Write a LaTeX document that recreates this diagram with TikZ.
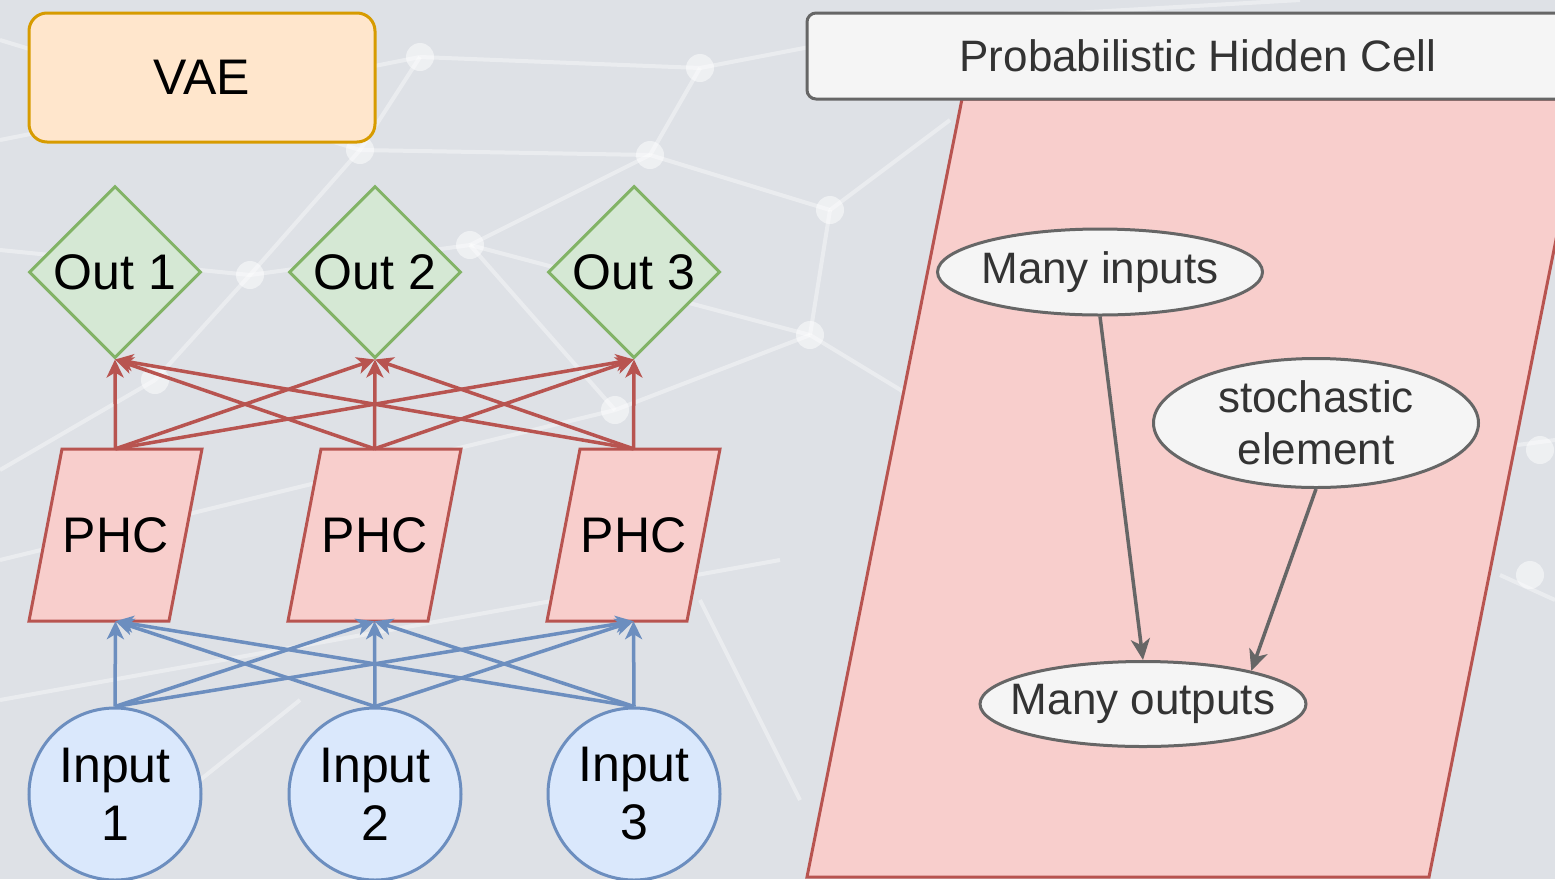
\documentclass[tikz,border=0pt]{standalone}
\usepackage{fontspec}
\setmainfont{Liberation Sans}
\usetikzlibrary{shapes.geometric,arrows.meta,calc}
\definecolor{bgc}{RGB}{222,225,230}
\definecolor{vaefill}{HTML}{FFE6CC}
\definecolor{vaeline}{HTML}{D79B00}
\definecolor{gfill}{HTML}{D5E8D4}
\definecolor{gline}{HTML}{82B366}
\definecolor{rfill}{HTML}{F8CECC}
\definecolor{rline}{HTML}{B85450}
\definecolor{bfill}{HTML}{DAE8FC}
\definecolor{bline}{HTML}{6C8EBF}
\definecolor{gyfill}{HTML}{F5F5F5}
\definecolor{gyline}{HTML}{666666}
\definecolor{gytext}{HTML}{333333}
\tikzset{
  bigfont/.style={font=\fontsize{50}{58}\selectfont},
  smallfont/.style={font=\fontsize{44}{52}\selectfont},
  vaebox/.style={draw=vaeline, fill=vaefill, line width=3pt, rounded corners=18pt,
    minimum width=346pt, minimum height=129pt, inner sep=0pt, bigfont},
  outnode/.style={diamond, aspect=1, draw=gline, fill=gfill, line width=3pt,
    minimum width=172pt, minimum height=172pt, inner sep=0pt, bigfont},
  phcshape/.style={draw=rline, fill=rfill, line width=3pt, line join=miter},
  phcnode/.style={rectangle, minimum width=173pt, minimum height=172pt, inner sep=0pt, bigfont},
  innode/.style={circle, draw=bline, fill=bfill, line width=3pt, minimum size=172pt,
    inner sep=0pt, align=center, font=\fontsize{50}{58}\selectfont},
  titlebox/.style={draw=gyline, fill=gyfill, line width=3pt, rounded corners=9pt,
    minimum width=782pt, minimum height=86pt, inner sep=0pt, smallfont, text=gytext},
  ell/.style={ellipse, draw=gyline, fill=gyfill, line width=3pt, inner sep=0pt,
    align=center, smallfont, text=gytext},
  redarrow/.style={draw=rline, line width=3.5pt, -{Stealth[length=18pt,width=17pt,inset=5pt]}},
  bluearrow/.style={draw=bline, line width=3.5pt, -{Stealth[length=18pt,width=17pt,inset=5pt]}},
  grayarrow/.style={draw=gyline, line width=3.5pt, -{Stealth[length=21pt,width=19pt,inset=6pt]}},
  netline/.style={draw=white, line width=4pt, opacity=0.38},
  netdot/.style={fill=white, opacity=0.5},
}
\begin{document}
\begin{tikzpicture}[x=1pt, y=-1pt]
\useasboundingbox (0,0) rectangle (1555,879);
\clip (0,0) rectangle (1555,879);
\fill[bgc] (0,0) rectangle (1555,879);
% background network (decorative)
\foreach \a/\b in {{(0,140)/(420,57)}, {(420,57)/(700,68)}, {(700,68)/(950,20)}, {(360,150)/(650,155)},
  {(650,155)/(830,210)}, {(420,57)/(360,150)}, {(700,68)/(650,155)}, {(360,150)/(250,275)},
  {(250,275)/(470,245)}, {(470,245)/(650,155)}, {(830,210)/(810,335)}, {(470,245)/(810,335)},
  {(250,275)/(155,380)}, {(155,380)/(0,470)}, {(810,335)/(615,410)}, {(615,410)/(470,245)},
  {(0,250)/(250,275)}, {(830,210)/(950,120)}, {(0,560)/(615,410)}, {(810,335)/(950,420)},
  {(100,860)/(300,700)}, {(0,700)/(780,560)}, {(700,600)/(800,800)}, {(1480,450)/(1555,440)},
  {(1500,575)/(1555,600)}, {(0,40)/(360,150)}, {(950,20)/(1300,0)}}
  \draw[netline] \a -- \b;
\foreach \p in {(420,57),(700,68),(360,150),(650,155),(830,210),(470,245),(250,275),(810,335),(155,380),(615,410),(1540,450),(1530,575)}
  \fill[netdot] \p circle (14pt);

% ---------------- left side ----------------
\node[vaebox] (vae) at (202,77.5) {VAE};

\node[outnode] (out1) at (115,272) {Out 1};
\node[outnode] (out2) at (375,272) {Out 2};
\node[outnode] (out3) at (634,272) {Out 3};

\foreach \i/\x in {1/115.5, 2/374.5, 3/633.5} {
  \filldraw[phcshape] (\x-86.5,621) -- (\x-53.5,449) -- (\x+86.5,449) -- (\x+53.5,621) -- cycle;
  \node[phcnode] (phc\i) at (\x,535) {PHC};
}

\node[innode] (in1) at (115,794) {Input\\1};
\node[innode] (in2) at (375,794) {Input\\2};
\node[innode] (in3) at (634,794) {Input\\3};

\foreach \i in {1,2,3} {
  \foreach \j in {1,2,3} {
    \draw[redarrow] (phc\i.north) -- (out\j.south);
    \draw[bluearrow] (in\i.north) -- (phc\j.south);
  }
}

% ---------------- right side ----------------
\filldraw[phcshape] (807,877) -- (962,99) -- (1584,99) -- (1429,877) -- cycle;
\node[titlebox] (title) at (1198,56) {Probabilistic Hidden Cell};

\node[ell, minimum width=325pt, minimum height=86pt] (mi) at (1100,272) {\makebox[0pt]{Many inputs}};
\node[ell, minimum width=325pt, minimum height=129pt] (se) at (1316,423)
  {\makebox[0pt]{stochastic}\\\makebox[0pt]{element}};
\node[ell, minimum width=326pt, minimum height=85pt] (mo) at (1143,704) {\makebox[0pt]{Many outputs}};

\draw[grayarrow] (mi.south) -- (mo.north);
\draw[grayarrow] (se.south) -- (mo.17);
\end{tikzpicture}
\end{document}
